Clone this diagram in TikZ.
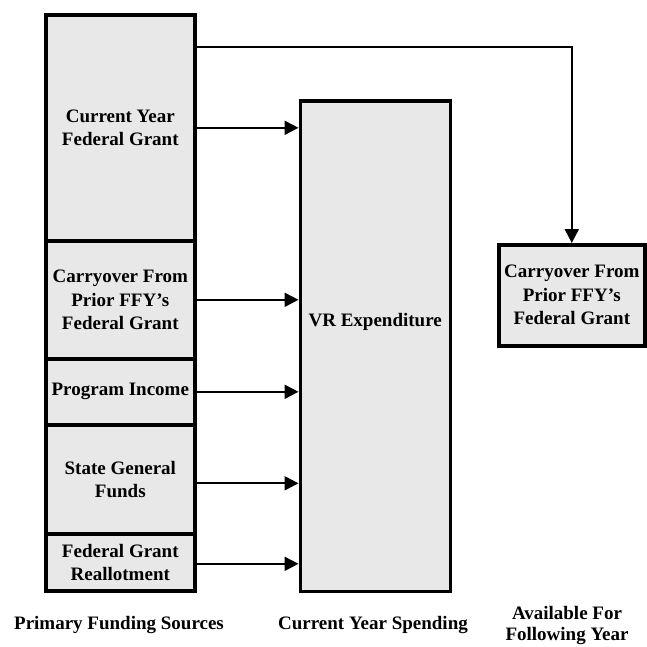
\documentclass[tikz,border=0pt]{standalone}
\usepackage{fontspec}
\setmainfont{Liberation Serif}
\usetikzlibrary{arrows.meta}

\definecolor{boxfill}{HTML}{E8E8E8}

\tikzset{
  fundbox/.style={draw=black, fill=boxfill, line width=3.6pt, inner sep=0pt,
    align=center, anchor=north west, font=\bfseries\fontsize{19}{23.5}\selectfont},
  flow/.style={draw=black, line width=2pt,
    -{Triangle[length=14pt,width=14pt]}},
  caption/.style={align=center, font=\bfseries\fontsize{19}{21}\selectfont}
}

\begin{document}
\begin{tikzpicture}[x=1pt,y=-1pt]
  \useasboundingbox (0,0) rectangle (646,647);

  % primary funding sources, stacked
  \node[fundbox, minimum width=149pt, minimum height=226pt] (cyfg) at (44,13)
    {Current Year\\Federal Grant};
  \node[fundbox, minimum width=149pt, minimum height=118pt] (carry) at (44,239)
    {Carryover From\\Prior FFY’s\\Federal Grant};
  \node[fundbox, minimum width=149pt, minimum height=66pt] (pi) at (44,357)
    {Program Income};
  \node[fundbox, minimum width=149pt, minimum height=109pt] (sgf) at (44,423)
    {State General\\Funds};
  \node[fundbox, minimum width=149pt, minimum height=57pt] (fgr) at (44,532)
    {Federal Grant\\Reallotment};

  % current year spending
  \node[fundbox, line width=3.4pt, minimum width=150pt, minimum height=490pt,
    label={[font=\bfseries\fontsize{19}{23}\selectfont, yshift=24pt]center:VR Expenditure}]
    (vr) at (298.5,99.5) {};

  % carried into the following year
  \node[fundbox, minimum width=146pt, minimum height=101pt] (next) at (497,243)
    {Carryover From\\Prior FFY’s\\Federal Grant};

  % flows into spending
  \draw[flow] (cyfg.east) -- (cyfg.east -| vr.west);
  \draw[flow] (carry.east) -- (carry.east -| vr.west);
  \draw[flow] (pi.east) -- (pi.east -| vr.west);
  \draw[flow] ([yshift=-4pt]sgf.east) -- ([yshift=-4pt]sgf.east -| vr.west);
  \draw[flow] ([yshift=-1.5pt]fgr.east) -- ([yshift=-1.5pt]fgr.east -| vr.west);

  % unspent grant carried forward
  \draw[flow] (cyfg.east |- 0,47) -| (next.north);

  % column captions
  \node[caption] (capsrc) at (119,625) {Primary Funding Sources};
  \node[caption] (capspend) at (373,625) {Current Year Spending};
  \node[caption] (capnext) at (567,625) {Available For\\Following Year};
\end{tikzpicture}
\end{document}
